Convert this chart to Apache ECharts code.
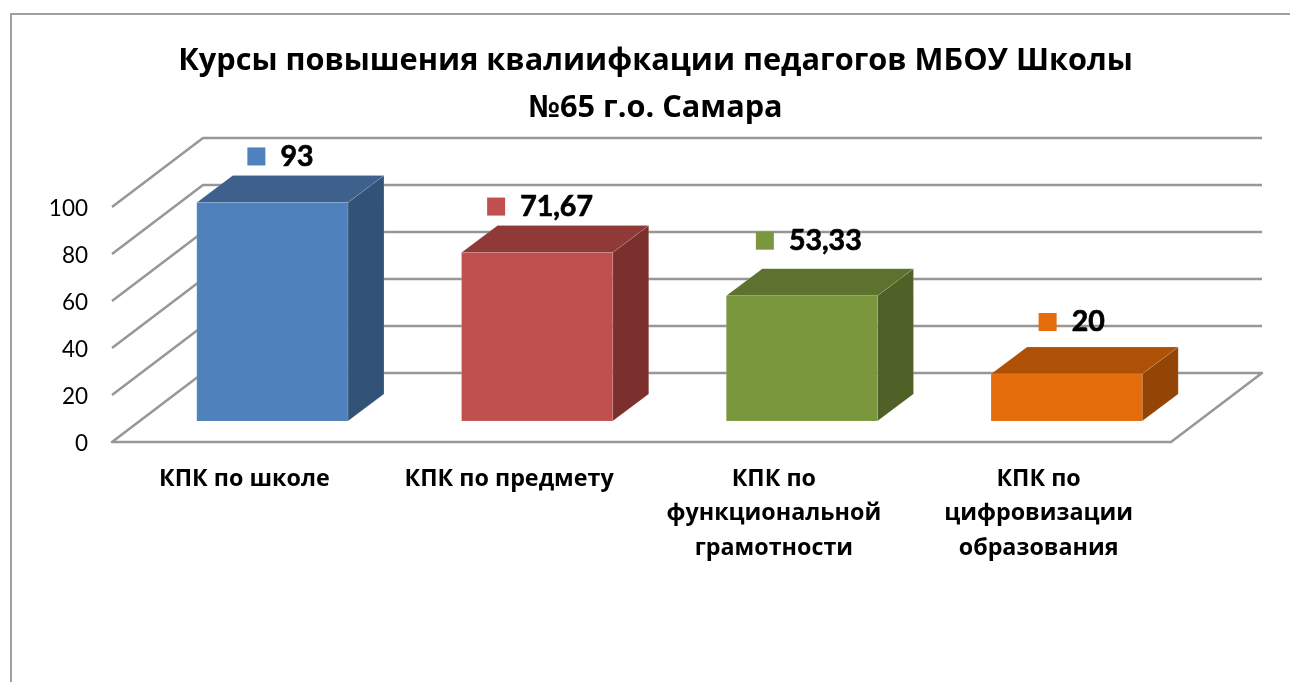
<!DOCTYPE html>
<html>
<head>
<meta charset="utf-8">
<title>Курсы повышения квалификации</title>
<script src="https://cdn.jsdelivr.net/npm/echarts@6/dist/echarts.min.js"></script>
<style>
html, body { margin: 0; padding: 0; background: #fff; }
#chart { width: 1290px; height: 682px; }
</style>
</head>
<body>
<div id="chart"></div>
<script>
var titleText = 'Курсы повышения квалиифкации педагогов МБОУ Школы\n№65 г.о. Самара';
var categories = ['КПК по школе', 'КПК по предмету', 'КПК по\nфункциональной\nграмотности', 'КПК по\nцифровизации\nобразования'];
var values = [93, 71.67, 53.33, 20];
var yTicks = [0, 20, 40, 60, 80, 100];

// front / top / side colours of each bar
var frontColors = ['#4f81bd', '#c0504d', '#7b973d', '#e46c0a'];
var topColors = ['#3e608d', '#8f3a38', '#5c722e', '#ae5106'];
var sideColors = ['#325278', '#7c302e', '#4f6127', '#944505'];

// label nudges from the bar centre, the labels were moved by hand in the original
var labelNudge = [[-16, -19], [-41, -19], [-37, -28], [-19, -25]];

var wallDx = 91, wallDy = -69;   // depth of the floor
var barDx = 36, barDy = -27;     // depth of a bar
var floorDx = 28, floorDy = -21; // where the bar stands on the floor
var lineColor = '#979797';

function renderWall(params, api) {
	var rect = params.coordSys;
	var y = api.coord([0, api.value(1)])[1];
	var left = rect.x;
	var right = rect.x + rect.width;
	var isFloor = api.value(1) === 0;
	var pts = [[left, y], [left + wallDx, y + wallDy], [right + wallDx, y + wallDy]];
	if (isFloor) {
		pts.push([right, y]);
	}
	return {
		type: isFloor ? 'polygon' : 'polyline',
		shape: {points: pts},
		style: {stroke: lineColor, lineWidth: 2.5, lineJoin: 'round', fill: isFloor ? '#fff' : null}
	};
}

function renderBar(params, api) {
	var i = params.dataIndex;
	var base = api.coord([api.value(0), 0]);
	var head = api.coord([api.value(0), api.value(1)]);
	var w = api.size([1, 0])[0] * 0.571;
	var x0 = base[0] + floorDx - w / 2;
	var x1 = x0 + w;
	var yb = base[1] + floorDy;
	var yt = head[1] + floorDy;
	var edge = 'rgba(255,255,255,0.12)';
	var labelText = String(api.value(1)).replace('.', ',');
	var mx = base[0] + floorDx + labelNudge[i][0];
	var my = yt + barDy + labelNudge[i][1];
	return {
		type: 'group',
		children: [
			{type: 'polygon', shape: {points: [[x1, yb], [x1 + barDx, yb + barDy], [x1 + barDx, yt + barDy], [x1, yt]]},
				style: {fill: sideColors[i], stroke: edge, lineWidth: 1}},
			{type: 'polygon', shape: {points: [[x0, yt], [x0 + barDx, yt + barDy], [x1 + barDx, yt + barDy], [x1, yt]]},
				style: {fill: topColors[i], stroke: edge, lineWidth: 1}},
			{type: 'rect', shape: {x: x0, y: yt, width: w, height: yb - yt},
				style: {fill: frontColors[i], stroke: edge, lineWidth: 1}},
			{type: 'rect', shape: {x: mx - 9, y: my - 9, width: 18, height: 18},
				style: {fill: frontColors[i]}},
			{type: 'text', x: mx + 24, y: my,
				style: {text: labelText, fill: '#000', stroke: '#000', lineWidth: 0.7, fontFamily: 'Lato', fontWeight: 'bold', fontSize: 28.5, textAlign: 'left', textVerticalAlign: 'middle'}}
		]
	};
}

var myChart = echarts.init(document.getElementById('chart'));
var option = {
	animation: false,
	backgroundColor: '#fff',
	title: {
		text: titleText,
		left: 650.5,
		top: 33,
		textAlign: 'center',
		textStyle: {fontFamily: 'Open Sans', fontWeight: 'bold', fontSize: 30.7, lineHeight: 47, color: '#000'}
	},
	graphic: [{
		type: 'polyline',
		shape: {points: [[11, 682], [11, 14], [1290, 14]]},
		style: {stroke: '#a0a0a0', lineWidth: 2, fill: null}
	}],
	grid: {left: 112, top: 207, width: 1059, height: 235},
	xAxis: {
		type: 'category',
		data: categories,
		axisLine: {show: false},
		axisTick: {show: false},
		axisLabel: {interval: 0, margin: 20, color: '#000', fontFamily: 'Open Sans', fontWeight: 'bold', fontSize: 23.3, lineHeight: 34.5}
	},
	yAxis: {
		type: 'value',
		min: 0,
		max: 100,
		interval: 20,
		axisLine: {show: false},
		axisTick: {show: false},
		splitLine: {show: false},
		axisLabel: {margin: 24, color: '#000', fontFamily: 'Lato', fontSize: 22.5, verticalAlign: 'top', lineHeight: 4}
	},
	series: [{
		type: 'custom',
		z: 1,
		renderItem: renderWall,
		data: yTicks.map(function (t) { return [0, t]; })
	}, {
		type: 'custom',
		z: 2,
		renderItem: renderBar,
		data: values.map(function (v, i) { return [i, v]; })
	}]
};
myChart.setOption(option);
</script>
</body>
</html>
